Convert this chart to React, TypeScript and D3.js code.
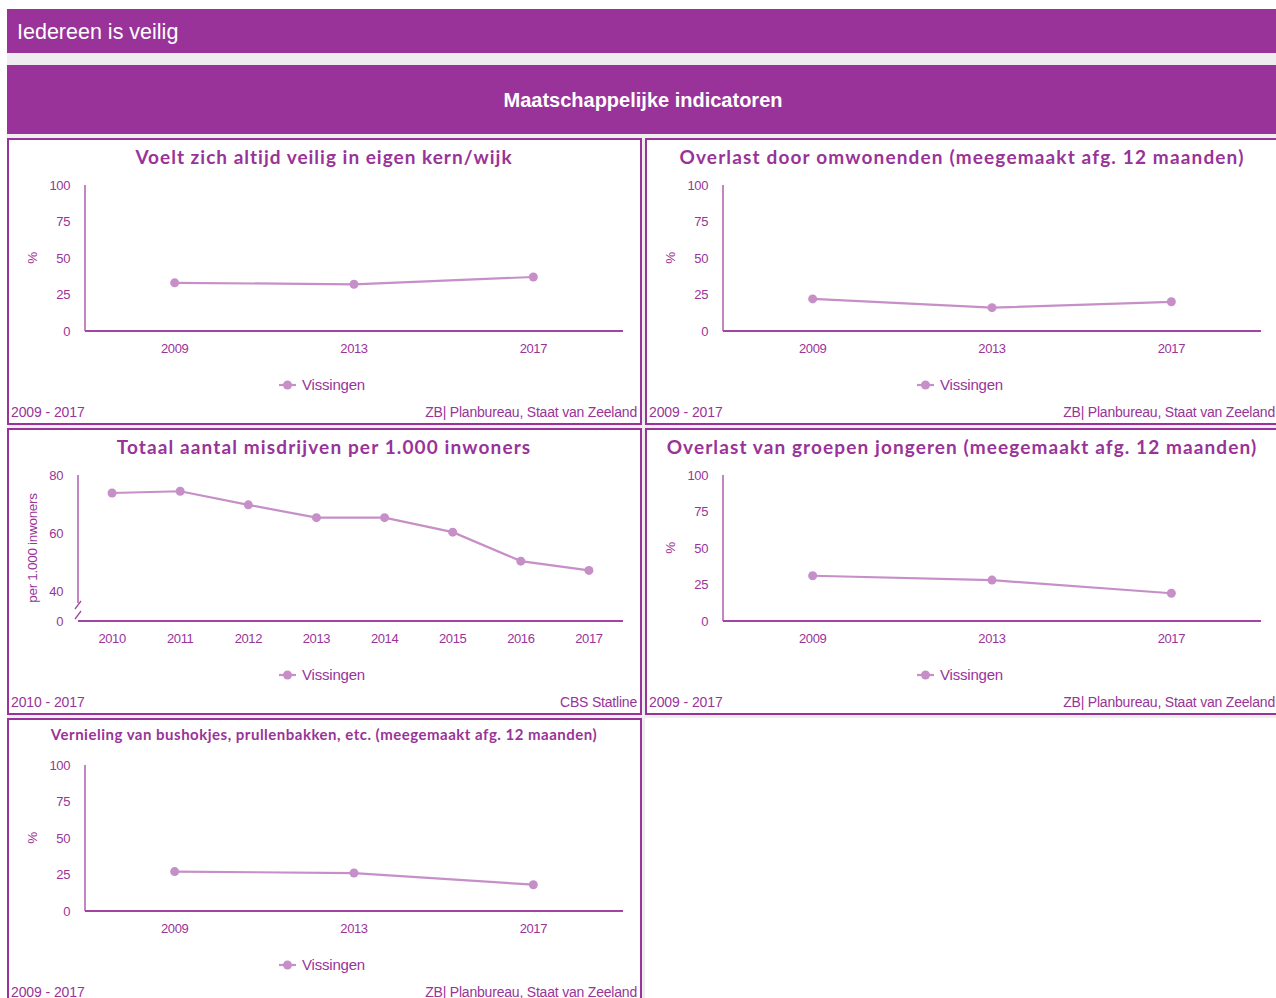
import React from "react";
import * as d3 from "d3";

const years3 = ["2009", "2013", "2017"];
const years8 = ["2010", "2011", "2012", "2013", "2014", "2015", "2016", "2017"];
const veiligValues = [33, 32, 37];
const omwonendenValues = [22, 16, 20];
const misdrijvenValues = [73.8, 74.4, 69.7, 65.3, 65.3, 60.3, 50.3, 47.1];
const jongerenValues = [31, 28, 19];
const vernielingValues = [27, 26, 18];
const pctTicks = [0, 25, 50, 75, 100];
const misdrijvenTicks = [0, 40, 60, 80];
const seriesName = "Vissingen";

const PURPLE = "#993399";
const AXIS = "#a245a2";
const LINE = "#c68fc8";
const GRAY = "#efeeef";
const SANS = "'Liberation Sans', Arial, sans-serif";
const TITLE_FONT = "Lato, 'Open Sans', sans-serif";

type PanelProps = {
  px: number;
  py: number;
  title: string;
  titleSize: number;
  titleSpacing: number;
  titleDy: number;
  categories: string[];
  values: number[];
  ticks: number[];
  yLabel: string;
  period: string;
  source: string;
  broken?: boolean;
};

function Panel(p: PanelProps) {
  const axisLeft = p.px + (p.broken ? 71 : 78);
  const axisRight = p.px + 616;
  const yTop = p.py + 47;
  const yBottom = p.py + 193;
  const x = d3.scalePoint<string>().domain(p.categories).range([axisLeft, axisRight]).padding(0.5);
  const y = p.broken
    ? d3.scaleLinear().domain([0, 40, 80]).range([yBottom, yBottom - 30, yTop])
    : d3.scaleLinear().domain([0, 100]).range([yBottom, yTop]);
  const line = d3
    .line<number>()
    .x((_, i) => x(p.categories[i]) as number)
    .y((v) => y(v));
  const cx = p.px + 317;
  const legY = p.py + 247;
  return (
    <g>
      <rect x={p.px + 1} y={p.py + 1} width={633} height={285} fill="#fff" stroke={PURPLE} strokeWidth={2} />
      <text
        x={cx}
        y={p.py + p.titleDy}
        textAnchor="middle"
        fill={PURPLE}
        fontFamily={TITLE_FONT}
        fontWeight={700}
        fontSize={p.titleSize}
        letterSpacing={p.titleSpacing}
      >
        {p.title}
      </text>
      {p.broken ? (
        <g stroke={AXIS} strokeWidth={1.3} fill="none">
          <line x1={axisLeft} x2={axisLeft} y1={yTop} y2={yBottom - 18} />
          <line x1={axisLeft + 3} y1={yBottom - 20} x2={axisLeft - 3} y2={yBottom - 12} />
          <line x1={axisLeft + 3} y1={yBottom - 10} x2={axisLeft - 3} y2={yBottom - 2} />
        </g>
      ) : (
        <line x1={axisLeft} x2={axisLeft} y1={yTop} y2={yBottom} stroke={AXIS} strokeWidth={1.3} />
      )}
      <line x1={axisLeft} x2={axisRight} y1={yBottom} y2={yBottom} stroke={AXIS} strokeWidth={2} />
      {p.ticks.map((t) => (
        <text
          key={t}
          x={axisLeft - 15}
          y={y(t)}
          dy="0.35em"
          textAnchor="end"
          fill={PURPLE}
          fontFamily={SANS}
          fontSize={13}
          letterSpacing={-0.4}
        >
          {t}
        </text>
      ))}
      {p.categories.map((c) => (
        <text
          key={c}
          x={x(c)}
          y={p.py + 215}
          textAnchor="middle"
          fill={PURPLE}
          fontFamily={SANS}
          fontSize={13}
          letterSpacing={-0.4}
        >
          {c}
        </text>
      ))}
      <text
        transform={`translate(${p.px + 25},${(yTop + yBottom) / 2}) rotate(-90)`}
        textAnchor="middle"
        dy="0.35em"
        fill={PURPLE}
        fontFamily={SANS}
        fontSize={13.5}
        letterSpacing={-0.3}
      >
        {p.yLabel}
      </text>
      <path d={line(p.values) || ""} fill="none" stroke={LINE} strokeWidth={2.2} />
      {p.values.map((v, i) => (
        <circle key={i} cx={x(p.categories[i])} cy={y(v)} r={4.5} fill={LINE} />
      ))}
      <line x1={p.px + 272} x2={p.px + 289} y1={legY} y2={legY} stroke={LINE} strokeWidth={2.2} />
      <circle cx={p.px + 280.5} cy={legY} r={4.5} fill={LINE} />
      <text
        x={p.px + 295}
        y={legY}
        dy="0.35em"
        fill={PURPLE}
        fontFamily={SANS}
        fontSize={15}
        letterSpacing={-0.2}
      >
        {seriesName}
      </text>
      <text x={p.px + 4} y={p.py + 279} fill={PURPLE} fontFamily={SANS} fontSize={14} letterSpacing={-0.1}>
        {p.period}
      </text>
      <text
        x={p.px + 630}
        y={p.py + 279}
        textAnchor="end"
        fill={PURPLE}
        fontFamily={SANS}
        fontSize={14}
        letterSpacing={-0.2}
      >
        {p.source}
      </text>
    </g>
  );
}

export default function App() {
  const col1 = 7;
  const col2 = 645;
  const row1 = 138;
  const row2 = 428;
  const row3 = 718;
  return (
    <svg
      width={1276}
      height={998}
      style={{ position: "absolute", left: 0, top: 0, display: "block" }}
    >
      <rect x={0} y={0} width={1276} height={998} fill="#fff" />
      <rect x={7} y={53} width={1269} height={945} fill={GRAY} />
      <rect x={7} y={9} width={1269} height={44} fill={PURPLE} />
      <text x={17} y={39} fill="#fff" fontFamily={SANS} fontSize={21.5}>
        Iedereen is veilig
      </text>
      <rect x={7} y={65} width={1269} height={69} fill={PURPLE} />
      <text x={643} y={107} textAnchor="middle" fill="#fff" fontFamily={SANS} fontWeight={700} fontSize={20}>
        Maatschappelijke indicatoren
      </text>
      <rect x={col2} y={row3} width={1276 - col2} height={998 - row3} fill="#fff" />
      <Panel
        px={col1}
        py={row1}
        title="Voelt zich altijd veilig in eigen kern/wijk"
        titleSize={19}
        titleSpacing={1.0}
        titleDy={26}
        categories={years3}
        values={veiligValues}
        ticks={pctTicks}
        yLabel="%"
        period="2009 - 2017"
        source="ZB| Planbureau, Staat van Zeeland"
      />
      <Panel
        px={col2}
        py={row1}
        title="Overlast door omwonenden (meegemaakt afg. 12 maanden)"
        titleSize={19}
        titleSpacing={1.15}
        titleDy={26}
        categories={years3}
        values={omwonendenValues}
        ticks={pctTicks}
        yLabel="%"
        period="2009 - 2017"
        source="ZB| Planbureau, Staat van Zeeland"
      />
      <Panel
        px={col1}
        py={row2}
        title="Totaal aantal misdrijven per 1.000 inwoners"
        titleSize={19}
        titleSpacing={1.12}
        titleDy={26}
        categories={years8}
        values={misdrijvenValues}
        ticks={misdrijvenTicks}
        yLabel="per 1.000 inwoners"
        period="2010 - 2017"
        source="CBS Statline"
        broken
      />
      <Panel
        px={col2}
        py={row2}
        title="Overlast van groepen jongeren (meegemaakt afg. 12 maanden)"
        titleSize={19}
        titleSpacing={1.1}
        titleDy={26}
        categories={years3}
        values={jongerenValues}
        ticks={pctTicks}
        yLabel="%"
        period="2009 - 2017"
        source="ZB| Planbureau, Staat van Zeeland"
      />
      <Panel
        px={col1}
        py={row3}
        title="Vernieling van bushokjes, prullenbakken, etc. (meegemaakt afg. 12 maanden)"
        titleSize={15}
        titleSpacing={0.5}
        titleDy={22}
        categories={years3}
        values={vernielingValues}
        ticks={pctTicks}
        yLabel="%"
        period="2009 - 2017"
        source="ZB| Planbureau, Staat van Zeeland"
      />
    </svg>
  );
}
